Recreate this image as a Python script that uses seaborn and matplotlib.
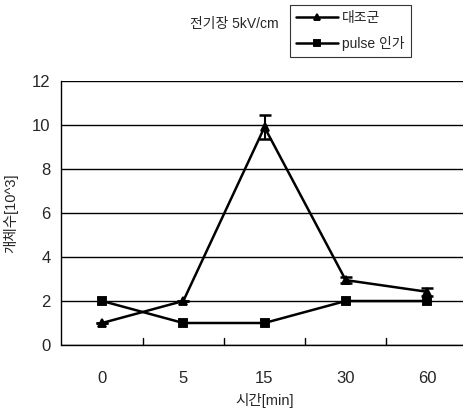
import matplotlib
matplotlib.use("Agg")
import matplotlib.pyplot as plt
import seaborn as sns
import pandas as pd
import numpy as np

times = ["0", "5", "15", "30", "60"]
control = [1.0, 2.0, 9.9, 2.95, 2.42]
control_err = [0.0, 0.0, 0.55, 0.15, 0.17]
pulse = [2.0, 1.0, 1.0, 2.0, 2.0]
series_names = ["대조군", "pulse 인가"]
yticks = [0, 2, 4, 6, 8, 10, 12]

sns.set_theme(style="white")
plt.rcParams['font.family'] = ['Liberation Sans', 'Noto Sans CJK KR', 'DejaVu Sans']

df = pd.DataFrame({
    "시간": times * 2,
    "값": control + pulse,
    "series": [series_names[0]] * 5 + [series_names[1]] * 5,
})

fig = plt.figure(figsize=(4.64, 4.16), dpi=100)
ax = fig.add_axes([61.5 / 464, 1 - 345 / 416, 406 / 464, (345 - 81) / 416])

sns.pointplot(data=df, x="시간", y="값", hue="series", order=times,
              hue_order=series_names, palette=["black", "black"],
              markers=["^", "s"], linestyles=["-", "-"], errorbar=None,
              ax=ax, markersize=6, linewidth=1.8, legend=True)

pos = np.arange(len(times))
ax.errorbar(pos, control, yerr=control_err, fmt="none", ecolor="black",
            elinewidth=1.5, capsize=4.5, capthick=1.8, zorder=5)

ax.set_ylim(0, 12)
ax.set_xlim(-0.5, len(times) - 0.5)
ax.set_yticks(yticks)
ax.set_yticklabels([str(v) for v in yticks], fontsize=12)
ax.set_xticks(pos)
ax.set_xticklabels(times, fontsize=12)
ax.yaxis.grid(True, color="black", linewidth=1.0)
ax.set_axisbelow(True)
ax.tick_params(axis="x", length=0, pad=19)
ax.tick_params(axis="y", length=0, pad=8)
for x in pos[:-1] + 0.5:
    ax.plot([x, x], [0, 0.3], color="black", linewidth=1, clip_on=False)
for s in ["top", "right"]:
    ax.spines[s].set_visible(False)
for s in ["left", "bottom"]:
    ax.spines[s].set_color("black")
    ax.spines[s].set_linewidth(1.0)

ax.set_xlabel("시간[min]", fontsize=10.5, labelpad=5)
ax.set_ylabel("개체수[10^3]", fontsize=10.5, labelpad=10)

handles, labels = ax.get_legend_handles_labels()
leg = ax.legend(handles, labels, loc="upper left",
                bbox_to_anchor=(290 / 464, 1 - 5 / 416),
                bbox_transform=fig.transFigure, frameon=True, fontsize=10,
                handlelength=3.0, borderpad=0.45, labelspacing=0.75,
                fancybox=False, edgecolor="black", handletextpad=0.3,
                borderaxespad=0, markerscale=0.8)
leg.get_frame().set_linewidth(0.8)
fig.text(279 / 464, 1 - 24 / 416, "전기장 5kV/cm", ha="right", va="center", fontsize=10)

fig.savefig("out.png", dpi=100)
